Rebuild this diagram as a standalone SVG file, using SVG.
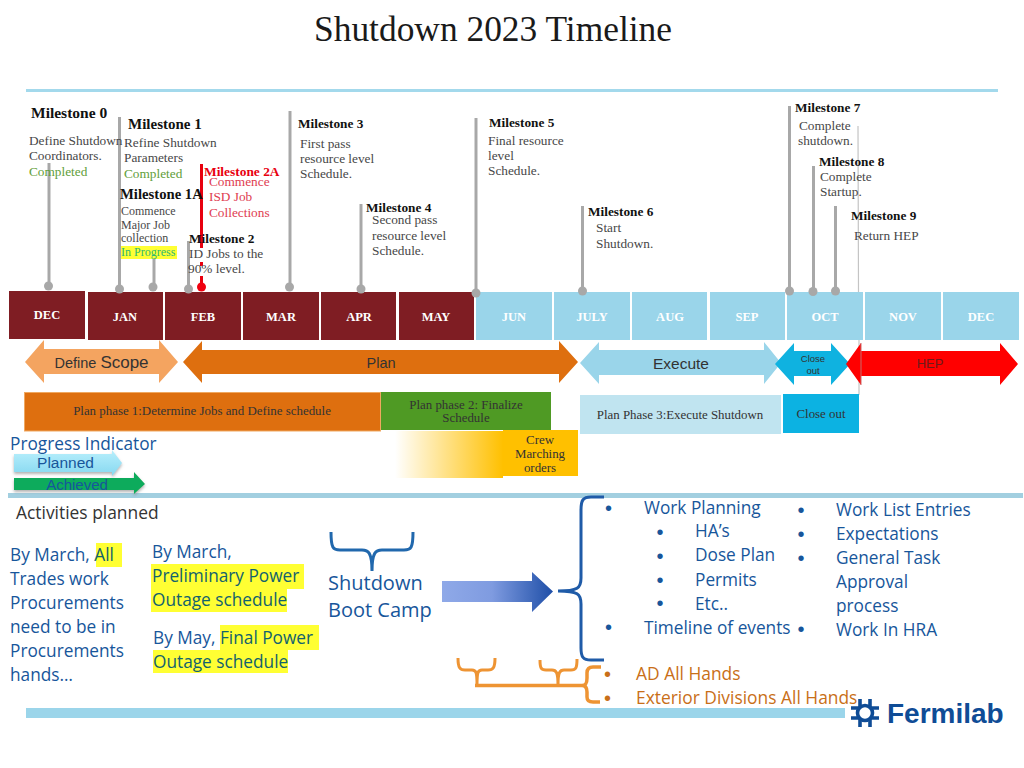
<svg xmlns="http://www.w3.org/2000/svg" width="1024" height="768" viewBox="0 0 1024 768">
<style>
text{font-family:"Liberation Serif","DejaVu Serif",serif}
.t{font-size:13.300px;fill:#474747}
.m{font-size:13.300px;font-weight:bold;fill:#111}
.mo{font-size:12.500px;font-weight:bold;fill:#fff;text-anchor:middle}
.s{font-family:"Open Sans","Noto Sans",sans-serif}
.a{font-family:"Liberation Sans",Arial,sans-serif;text-anchor:middle;fill:#333}
.p{font-size:12.900px;fill:#333;text-anchor:middle}
.b{font-family:"Open Sans","Noto Sans",sans-serif;font-size:17.250px;fill:#17569b}
.o{font-family:"Open Sans","Noto Sans",sans-serif;font-size:17.400px;fill:#c96f18}
.bu{font-family:"Liberation Sans",Arial,sans-serif;font-size:20px;fill:#17569b;text-anchor:middle;transform:translateY(2px)}
.bo2{font-family:"Liberation Sans",Arial,sans-serif;font-size:20px;fill:#c96f18;text-anchor:middle;transform:translateY(2px)}
.y{fill:#12626e}
.ln{stroke:#a8a8a8;stroke-width:3;fill:none}
.dot{fill:#a8a8a8}
.mr{fill:#7f1d23}.mb{fill:#9ad5ea}
.br{fill:none;stroke:#1f5ba8;stroke-width:3}
.bo{fill:none;stroke:#ee9433;stroke-width:3}
.hl{fill:#ffff33}
</style>
<defs>
<linearGradient id="fade"><stop offset="0" stop-color="#ffc000" stop-opacity="0"/><stop offset="1" stop-color="#ffc000"/></linearGradient>
<linearGradient id="blue"><stop offset="0" stop-color="#8fa9e8"/><stop offset="0.45" stop-color="#7f9be0"/><stop offset="1" stop-color="#1f4fa8"/></linearGradient>
<linearGradient id="sky" x1="0" y1="0" x2="0" y2="1"><stop offset="0" stop-color="#b8effc"/><stop offset="1" stop-color="#86d8f0"/></linearGradient>
<filter id="sh" x="-10%" y="-30%" width="120%" height="170%"><feDropShadow dx="0" dy="2" stdDeviation="1.500" flood-color="#808080" flood-opacity="0.6"/></filter>
</defs>
<rect width="1024" height="768" fill="#fff"/>
<text id="title" x="493" y="41" text-anchor="middle" fill="#1a1a1a" style="font-size:35.400px">Shutdown 2023 Timeline</text>
<rect x="26" y="89" width="972" height="3" fill="#a3d9ec"/>
<rect x="8" y="493" width="1015" height="5" fill="#a2cfe0"/>
<rect x="26" y="708" width="819" height="10" fill="#9bd5ea"/>

<g id="gradient-band"><rect x="395" y="431" width="108" height="47" fill="url(#fade)"/></g>

<g id="months">
<rect class="mr" x="9" y="291" width="76" height="48"/><text class="mo" x="47" y="319">DEC</text>
<rect class="mr" x="88" y="292" width="75" height="48"/><text class="mo" x="125" y="321">JAN</text>
<rect class="mr" x="165" y="292" width="76" height="48"/><text class="mo" x="203" y="321">FEB</text>
<rect class="mr" x="243" y="292" width="76" height="48"/><text class="mo" x="281" y="321">MAR</text>
<rect class="mr" x="321" y="292" width="75" height="48"/><text class="mo" x="359" y="321">APR</text>
<rect class="mr" x="399" y="292" width="75" height="48"/><text class="mo" x="436" y="321">MAY</text>
<rect class="mb" x="476" y="292" width="76" height="48"/><text class="mo" x="514" y="321">JUN</text>
<rect class="mb" x="554" y="292" width="76" height="48"/><text class="mo" x="592" y="321">JULY</text>
<rect class="mb" x="632" y="292" width="75" height="48"/><text class="mo" x="670" y="321">AUG</text>
<rect class="mb" x="710" y="292" width="75" height="48"/><text class="mo" x="747" y="321">SEP</text>
<rect class="mb" x="787" y="292" width="76" height="48"/><text class="mo" x="825" y="321">OCT</text>
<rect class="mb" x="865" y="292" width="76" height="48"/><text class="mo" x="903" y="321">NOV</text>
<rect class="mb" x="943" y="292" width="76" height="48"/><text class="mo" x="981" y="321">DEC</text>
</g>

<g id="connectors">
<path class="ln" d="M49 163V283"/><circle class="dot" cx="48.500" cy="286" r="4.500"/>
<path class="ln" d="M119.500 117V289"/><circle class="dot" cx="119.500" cy="289" r="4.500"/>
<path class="ln" d="M154 258V287"/><circle class="dot" cx="153" cy="287" r="4.500"/>
<path class="ln" d="M188.500 241V289"/><circle class="dot" cx="188.500" cy="289" r="4.500"/>
<path d="M201.500 164V248M201.500 262V266M201.500 276V284" stroke="#e8000f" stroke-width="3" fill="none"/><circle cx="201.500" cy="287" r="4.500" fill="#f0000f"/>
<path class="ln" d="M290 111V287"/><circle class="dot" cx="289.500" cy="287" r="4.500"/>
<path class="ln" d="M361 204V289"/><circle class="dot" cx="361" cy="289" r="4.500"/>
<path class="ln" d="M476 118V292"/><circle class="dot" cx="476" cy="293" r="4.500"/>
<path class="ln" d="M582.500 206V291"/><circle class="dot" cx="582.500" cy="291" r="4.500"/>
<path class="ln" d="M789.500 106V291"/><circle class="dot" cx="789.500" cy="291" r="4.500"/>
<path class="ln" d="M813.500 166V291"/><circle class="dot" cx="813" cy="291.500" r="4.500"/>
<path class="ln" d="M835.500 206V291"/><circle class="dot" cx="835.500" cy="291" r="4.500"/>
<path d="M858 126L858.500 292M859 340V395" stroke="#c4c4c4" stroke-width="1.200" fill="none"/>
</g>

<g id="m0"><text class="m" x="31" y="118" style="font-size:15.500px">Milestone 0</text><text class="t" x="29" y="145">Define Shutdown</text><text class="t" x="29" y="160">Coordinators.</text><text class="t" x="29" y="176" style="fill:#5f9e3a">Completed</text></g>
<g id="m1"><text class="m" x="128" y="129" style="font-size:15px">Milestone 1</text><text class="t" x="124" y="147">Refine  Shutdown</text><text class="t" x="124" y="162">Parameters</text><text class="t" x="124" y="178" style="fill:#5f9e3a">Completed</text></g>
<g id="m1a"><text class="m" x="120" y="199" style="font-size:14.700px">Milestone 1A</text><text class="t" x="121" y="215" style="font-size:12px">Commence</text><text class="t" x="121" y="229" style="font-size:12px">Major Job</text><text class="t" x="121" y="242" style="font-size:12px">collection</text><rect class="hl" x="121" y="246" width="56" height="13"/><text class="t" x="121" y="256" style="font-size:12px;fill:#2eb872">In Progress</text></g>
<g id="m2a"><text class="m" x="204" y="176" style="fill:#e8000f;font-size:13.400px">Milestone 2A</text><text class="t" x="209" y="186" style="fill:#e03c50">Commence</text><text class="t" x="209" y="201" style="fill:#e03c50">ISD Job</text><text class="t" x="209" y="217" style="fill:#e03c50">Collections</text></g>
<g id="m2"><text class="m" x="189" y="243">Milestone 2</text><text class="t" x="189" y="258">ID Jobs to the</text><text class="t" x="188" y="273">90% level.</text></g>
<g id="m3"><text class="m" x="298" y="128">Milestone 3</text><text class="t" x="300" y="148">First pass</text><text class="t" x="300" y="163">resource level</text><text class="t" x="300" y="178">Schedule.</text></g>
<g id="m4"><text class="m" x="366" y="212">Milestone 4</text><text class="t" x="372" y="224">Second pass</text><text class="t" x="372" y="240">resource level</text><text class="t" x="372" y="255">Schedule.</text></g>
<g id="m5"><text class="m" x="489" y="127">Milestone 5</text><text class="t" x="488" y="145">Final resource</text><text class="t" x="488" y="160">level</text><text class="t" x="488" y="175">Schedule.</text></g>
<g id="m6"><text class="m" x="588" y="216">Milestone 6</text><text class="t" x="596" y="232">Start</text><text class="t" x="596" y="248">Shutdown.</text></g>
<g id="m7"><text class="m" x="795" y="112">Milestone 7</text><text class="t" x="799" y="130">Complete</text><text class="t" x="798" y="145">shutdown.</text></g>
<g id="m8"><text class="m" x="819" y="166">Milestone 8</text><text class="t" x="820" y="181">Complete</text><text class="t" x="820" y="196">Startup.</text></g>
<g id="m9"><text class="m" x="851" y="220">Milestone 9</text><text class="t" x="854" y="240">Return HEP</text></g>

<g id="define-scope"><path fill="#f4a460" d="M25 362L44 340V349H159V340L178 362L159 383V374H44V383Z"/><text class="a" x="101.500" y="368" style="font-size:14.500px">Define <tspan style="font-size:17px">Scope</tspan></text></g>
<g id="plan"><path fill="#de6f0f" d="M183 362L202 341V350H559V341L578 362L559 383V374H202V383Z"/><text class="a" x="381" y="368" style="font-size:14.500px">Plan</text></g>
<g id="execute"><path fill="#9ad5ea" d="M580 363L599 342V350H764V342L781 363L764 384V375H599V384Z"/><text class="a" x="681" y="369" style="font-size:15.500px">Execute</text></g>
<g id="closeout-arrow"><path fill="#0fb2e0" d="M775 364L794 343V351H831V343L850 364L831 385V376H794V385Z"/><text class="a" x="813" y="362" style="font-size:9.500px">Close</text><text class="a" x="813" y="374" style="font-size:9.500px">out</text></g>
<g id="hep"><path fill="#ff0000" d="M846 364L861 343V351H1000V343L1018 364L1000 385V376H861V385Z"/><path d="M861 343V385" stroke="#c96a6a" stroke-width="1"/><text class="a" x="930" y="368" style="font-size:13px;fill:#6e1a1a">HEP</text></g>

<g id="phase1"><rect x="24.500" y="392.500" width="356" height="38.500" fill="#de6f0f" stroke="#f0a860"/><text class="p" x="202" y="415">Plan phase 1:Determine Jobs and Define schedule</text></g>
<g id="phase2"><rect x="381" y="392" width="170" height="38" fill="#4f9a24"/><text class="p" x="466" y="409">Plan phase 2: Finalize</text><text class="p" x="466" y="422">Schedule</text></g>
<g id="phase3"><rect x="580" y="395" width="201" height="39" fill="#c0e4f0"/><text class="p" x="680" y="419">Plan Phase 3:Execute Shutdown</text></g>
<g id="closeout"><rect x="783" y="394" width="76" height="39" fill="#0cb2e2"/><text class="p" x="821" y="418">Close out</text></g>
<g id="crew"><rect x="503" y="430" width="75" height="46" fill="#ffc000"/><text class="p" x="540" y="444">Crew</text><text class="p" x="540" y="458">Marching</text><text class="p" x="540" y="472">orders</text></g>

<g id="progress">
<text class="b" x="10" y="450">Progress Indicator</text>
<path fill="url(#sky)" filter="url(#sh)" d="M14 454H112V450L122 463L112 476V472H14Z"/>
<text class="a" x="65.500" y="468" style="font-size:15.500px;fill:#17569b">Planned</text>
<path fill="#0bab5c" filter="url(#sh)" d="M14 478H134V472L145 484L134 494V490H14Z"/>
<text class="a" x="77" y="490" style="font-size:15px;fill:#17569b">Achieved</text>
</g>

<g id="activities"><text class="s" x="16" y="519" style="font-size:17.400px;fill:#333">Activities planned</text></g>
<g id="by-march-1"><rect class="hl" x="96" y="543" width="26" height="24"/>
<text class="b" x="10" y="561">By March, <tspan class="y">All</tspan></text><text class="b" x="10" y="585">Trades work</text><text class="b" x="10" y="609">Procurements</text><text class="b" x="10" y="633">need to be in</text><text class="b" x="10" y="657">Procurements</text><text class="b" x="10" y="681">hands…</text></g>
<g id="by-march-2"><rect class="hl" x="151" y="564" width="153" height="25"/><rect class="hl" x="151" y="589" width="136" height="23"/>
<text class="b" x="152" y="558">By March,</text><text class="b y" x="152" y="582">Preliminary Power</text><text class="b y" x="152" y="606">Outage schedule</text></g>
<g id="by-may"><rect class="hl" x="220" y="625" width="99" height="25"/><rect class="hl" x="153" y="650" width="135" height="23"/>
<text class="b" x="153" y="644">By May, <tspan class="y">Final Power</tspan></text><text class="b y" x="153" y="668">Outage schedule</text></g>

<g id="bootcamp">
<path class="br" d="M331 532C331 548 333 550 340 550H362C368 550 372 552 372 571M413 532C413 548 411 550 404 550H382C376 550 372 552 372 571" style="stroke:#2168ad"/>
<text class="b" x="328" y="590" style="font-size:20px">Shutdown</text><text class="b" x="328" y="617" style="font-size:20px">Boot Camp</text>
</g>
<g id="big-arrow"><path fill="url(#blue)" d="M442 581H532V572L553 591.500L532 612V602H442Z"/></g>
<g id="work-brace"><path class="br" d="M604 497H591C583 497 581 500 581 510V578C581 588 578 591 558 591C578 591 581 594 581 604V648C581 657 583 660 591 660H604"/></g>
<g id="orange-braces">
<path class="bo" d="M458 658C458 668 460 670 465 670H472C476 670 477 672 477 685M495 658C495 668 493 670 488 670H482C478 670 477 672 477 685"/>
<path class="bo" d="M540 660C540 668 541 670 546 670H552C556 670 558 672 558 685M577 659C577 668 576 670 571 670H564C560 670 558 672 558 685"/>
<path class="bo" d="M475 685.500H582C586 685.500 587 683 587 678V673C587 669 589 667 593 667H601M582 685.500C586 685.500 587 688 587 692V697C587 700 589 702 593 702H600" style="stroke-width:3.500"/>
</g>

<g id="work-list">
<text class="bu" x="608.500" y="512.500">•</text><text class="b" x="644" y="514">Work Planning</text>
<text class="bu" x="660" y="536.500">•</text><text class="b" x="695" y="537">HA’s</text>
<text class="bu" x="660" y="560.500">•</text><text class="b" x="695" y="561">Dose Plan</text>
<text class="bu" x="660" y="584.500">•</text><text class="b" x="695" y="586">Permits</text>
<text class="bu" x="660" y="608">•</text><text class="b" x="695" y="610">Etc..</text>
<text class="bu" x="608.500" y="631.500">•</text><text class="b" x="644" y="634">Timeline of events</text>
<text class="bu" x="801" y="515">•</text><text class="b" x="836" y="516">Work List Entries</text>
<text class="bu" x="801" y="538.500">•</text><text class="b" x="836" y="540">Expectations</text>
<text class="bu" x="801" y="562.500">•</text><text class="b" x="836" y="564">General Task</text>
<text class="b" x="836" y="588">Approval</text>
<text class="b" x="836" y="612">process</text>
<text class="bu" x="801" y="633.500">•</text><text class="b" x="836" y="636">Work In HRA</text>
</g>
<g id="hands">
<text class="bo2" x="607.500" y="678.500">•</text><text class="o" x="636" y="680">AD All Hands</text>
<text class="bo2" x="607.500" y="702.500">•</text><text class="o" x="636" y="704">Exterior Divisions All Hands</text>
</g>
<g id="logo">
<g stroke="#0f4c96" stroke-width="3.600" fill="none"><circle cx="865" cy="713" r="7.500"/><path d="M860 699V707M870 699V707M860 719V727M870 719V727M851 708H859M851 718H859M871 708H879M871 718H879"/></g>
<text x="887" y="723" style="font-family:'Liberation Sans',Arial,sans-serif;font-weight:bold;font-size:28px;fill:#0f4c96">Fermilab</text>
</g>
</svg>
